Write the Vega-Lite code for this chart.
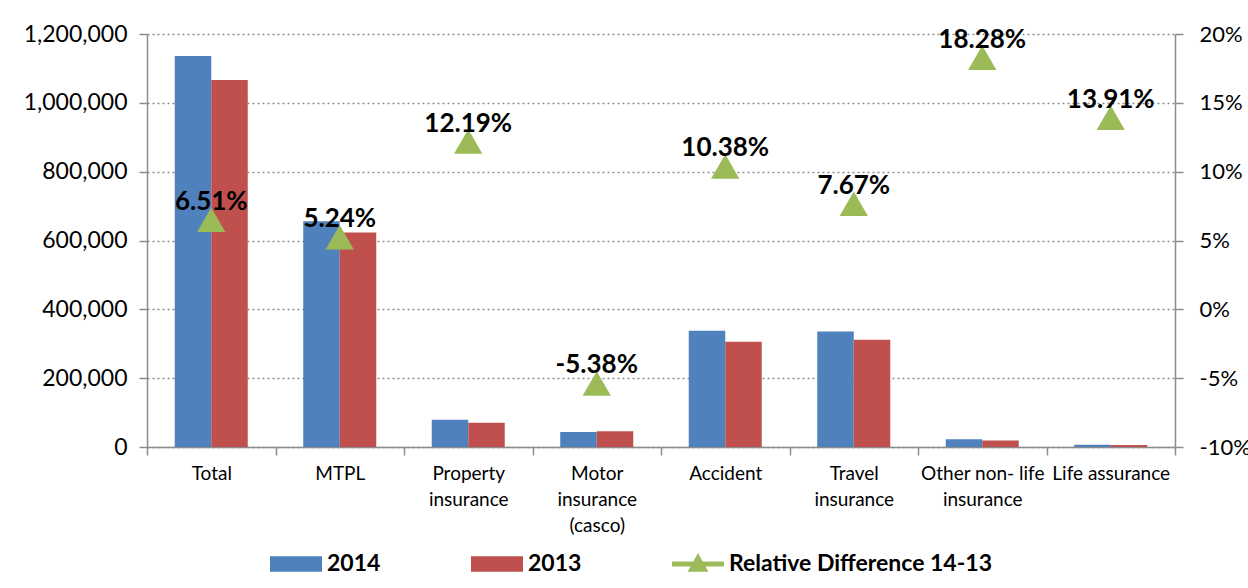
{
  "$schema": "https://vega.github.io/schema/vega-lite/v6.json",
  "width": 1028,
  "height": 413,
  "autosize": {"type": "none"},
  "padding": {"left": 147, "top": 34, "right": 73, "bottom": 141},
  "background": "white",
  "config": {
    "locale": {"number": {"decimal": ".", "thousands": ",", "grouping": [3], "currency": ["$", ""], "minus": "-"}},
    "view": {"stroke": null},
    "font": "Lato",
    "axis": {
      "domainColor": "#8c8c8c",
      "tickColor": "#8c8c8c",
      "domainWidth": 1.5,
      "tickWidth": 1.5,
      "tickSize": 8,
      "labelColor": "#000000",
      "labelFont": "Lato",
      "titleFont": "Lato"
    }
  },
  "data": {
    "values": [
      {"cat": "Total", "series": "2014", "value": 1136000},
      {"cat": "Total", "series": "2013", "value": 1066600},
      {"cat": "MTPL", "series": "2014", "value": 656200},
      {"cat": "MTPL", "series": "2013", "value": 623500},
      {"cat": "Property\ninsurance", "series": "2014", "value": 79100},
      {"cat": "Property\ninsurance", "series": "2013", "value": 70500},
      {"cat": "Motor\ninsurance\n(casco)", "series": "2014", "value": 43340},
      {"cat": "Motor\ninsurance\n(casco)", "series": "2013", "value": 45800},
      {"cat": "Accident", "series": "2014", "value": 337800},
      {"cat": "Accident", "series": "2013", "value": 306000},
      {"cat": "Travel\ninsurance", "series": "2014", "value": 335600},
      {"cat": "Travel\ninsurance", "series": "2013", "value": 311700},
      {"cat": "Other non- life\ninsurance", "series": "2014", "value": 22470},
      {"cat": "Other non- life\ninsurance", "series": "2013", "value": 19000},
      {"cat": "Life assurance", "series": "2014", "value": 6600},
      {"cat": "Life assurance", "series": "2013", "value": 5800},
      {"cat": "Total", "series": "Relative Difference 14-13", "pct": 0.0651},
      {"cat": "MTPL", "series": "Relative Difference 14-13", "pct": 0.0524},
      {"cat": "Property\ninsurance", "series": "Relative Difference 14-13", "pct": 0.1219},
      {"cat": "Motor\ninsurance\n(casco)", "series": "Relative Difference 14-13", "pct": -0.0538},
      {"cat": "Accident", "series": "Relative Difference 14-13", "pct": 0.1038},
      {"cat": "Travel\ninsurance", "series": "Relative Difference 14-13", "pct": 0.0767},
      {"cat": "Other non- life\ninsurance", "series": "Relative Difference 14-13", "pct": 0.1828},
      {"cat": "Life assurance", "series": "Relative Difference 14-13", "pct": 0.1391}
    ]
  },
  "encoding": {
    "x": {
      "field": "cat",
      "type": "nominal",
      "sort": null,
      "scale": {"paddingInner": 0, "paddingOuter": 0},
      "axis": {
        "title": null,
        "labelAngle": 0,
        "tickBand": "extent",
        "labelFontSize": 19,
        "labelPadding": 9,
        "labelLineHeight": 26,
        "labelExpr": "split(datum.label, '\\n')",
        "grid": false
      }
    }
  },
  "layer": [
    {
      "transform": [{"filter": "datum.series !== 'Relative Difference 14-13'"}],
      "mark": {"type": "bar"},
      "encoding": {
        "xOffset": {
          "field": "series",
          "type": "nominal",
          "sort": ["2014", "2013"],
          "scale": {"paddingOuter": 0.76, "paddingInner": 0}
        },
        "y": {
          "field": "value",
          "type": "quantitative",
          "scale": {"domain": [0, 1200000], "nice": false},
          "axis": {
            "title": null,
            "values": [0, 200000, 400000, 600000, 800000, 1000000, 1200000],
            "format": ",d",
            "labelFontSize": 23,
            "labelPadding": 12,
            "grid": true,
            "gridDash": [2, 3],
            "gridColor": "#8c8c8c",
            "gridWidth": 1.5
          }
        },
        "color": {
          "field": "series",
          "type": "nominal",
          "scale": {
            "domain": ["2014", "2013", "Relative Difference 14-13"],
            "range": ["#4F81BD", "#C0504D", "#9BBB59"]
          },
          "legend": {
            "title": null,
            "orient": "none",
            "direction": "horizontal",
            "legendX": 123,
            "legendY": 504,
            "padding": 0,
            "symbolSize": 2704,
            "symbolStrokeWidth": 0,
            "symbolOpacity": 1,
            "labelFontSize": 23,
            "labelFontWeight": "bold",
            "labelColor": "#000000",
            "labelOffset": 5,
            "labelLimit": 500,
            "columnPadding": 90,
            "encode": {
              "symbols": {
                "update": {
                  "shape": {"signal": "datum.value === 'Relative Difference 14-13' ? 'M-1,-0.1H1V0.1H-1Z M0,-0.42L0.4,0.3H-0.4Z' : 'M-1,-0.3H1V0.3H-1Z'"},
                  "fill": {"scale": "color", "field": "value"},
                  "fillOpacity": {"value": 1}
                }
              }
            }
          }
        }
      }
    },
    {
      "transform": [{"filter": "datum.series === 'Relative Difference 14-13'"}],
      "encoding": {
        "y": {
          "field": "pct",
          "type": "quantitative",
          "scale": {"domain": [-0.1, 0.2], "nice": false},
          "axis": {
            "orient": "right",
            "title": null,
            "values": [-0.1, -0.05, 0, 0.05, 0.1, 0.15, 0.2],
            "format": ".0%",
            "labelExpr": "replace(datum.label, '\u2212', '-')",
            "labelFontSize": 22,
            "labelPadding": 16,
            "grid": false
          }
        }
      },
      "layer": [
        {
          "mark": {"type": "point", "shape": "triangle-up", "filled": true, "size": 800, "opacity": 1},
          "encoding": {
            "color": {"field": "series", "type": "nominal"}
          }
        },
        {
          "mark": {"type": "text", "fontWeight": "bold", "fontSize": 26, "baseline": "alphabetic", "dy": -10, "color": "#000000"},
          "encoding": {
            "text": {"field": "pct", "type": "quantitative", "format": ".2%"}
          }
        }
      ]
    }
  ],
  "resolve": {"scale": {"y": "independent"}}
}
